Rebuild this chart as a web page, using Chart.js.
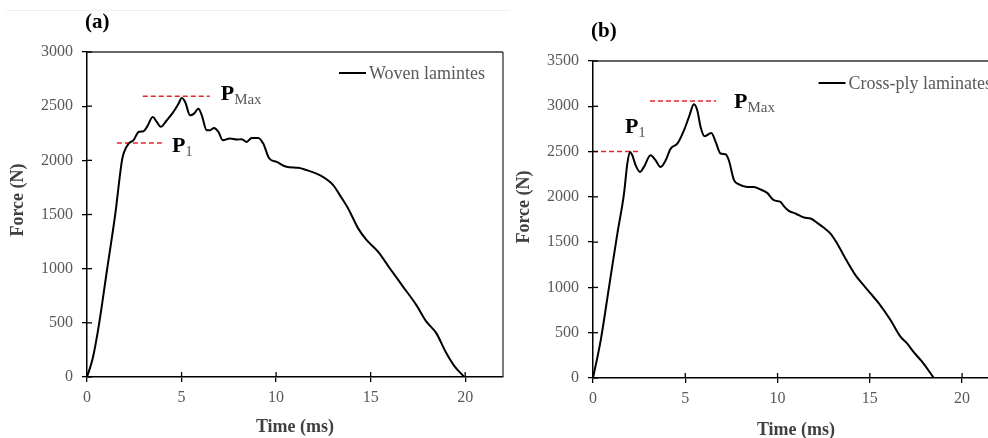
<!DOCTYPE html>
<html>
<head>
<meta charset="utf-8">
<script src="https://cdn.jsdelivr.net/npm/chart.js@4.4.1/dist/chart.umd.min.js"></script>
<style>
  html, body { margin: 0; padding: 0; background: #fff; overflow: hidden; }
  #wrap { position: relative; width: 988px; height: 438px; overflow: hidden; }
  #topline { position: absolute; left: 6px; top: 10px; width: 504px; height: 0; border-top: 1px solid #efefef; }
  #chartA { position: absolute; left: 0; top: 0; }
  #chartB { position: absolute; left: 494px; top: 0; }
</style>
</head>
<body>
<div id="wrap">
  <div id="topline"></div>
  <canvas id="chartA" width="510" height="438"></canvas>
  <canvas id="chartB" width="510" height="438"></canvas>
</div>
<script>
// (a) woven laminates - force vs time
const timeA = [0, 0.3, 0.62, 1.06, 1.5, 1.85, 1.97, 2.2, 2.46, 2.73, 2.99, 3.17, 3.48, 3.69, 3.9, 4.22, 4.57, 4.84, 5.01, 5.19, 5.45, 5.66, 5.89, 6.07, 6.33, 6.51, 6.72, 6.95, 7.18, 7.56, 7.92, 8.18, 8.44, 8.71, 9.06, 9.32, 9.64, 10.03, 10.55, 11.17, 11.61, 12.31, 13.02, 13.37, 13.81, 14.34, 14.78, 15.39, 16.01, 16.71, 17.41, 17.94, 18.47, 19.0, 19.44, 19.96];
const forceA = [0, 170, 470, 990, 1510, 2000, 2080, 2155, 2186, 2262, 2269, 2309, 2400, 2355, 2309, 2370, 2447, 2523, 2576, 2539, 2416, 2431, 2477, 2416, 2278, 2278, 2299, 2262, 2186, 2201, 2192, 2195, 2170, 2207, 2207, 2155, 2017, 1986, 1940, 1931, 1910, 1863, 1771, 1679, 1556, 1372, 1265, 1157, 1004, 835, 666, 513, 405, 221, 98, 0];

// (b) cross-ply laminates
const timeB = [0, 0.42, 0.87, 1.32, 1.68, 1.86, 2.0, 2.13, 2.31, 2.55, 2.76, 3.12, 3.39, 3.66, 3.94, 4.21, 4.57, 4.93, 5.2, 5.47, 5.65, 5.83, 6.05, 6.41, 6.65, 6.91, 7.18, 7.36, 7.64, 7.91, 8.36, 8.72, 9.08, 9.44, 9.8, 10.16, 10.34, 10.61, 10.97, 11.43, 11.79, 12.15, 12.51, 12.87, 13.23, 13.68, 14.22, 14.58, 15.04, 15.49, 16.12, 16.66, 17.02, 17.39, 17.83, 18.47];
const forceB = [0, 419, 1007, 1595, 2036, 2367, 2496, 2459, 2349, 2275, 2331, 2459, 2404, 2331, 2404, 2533, 2588, 2735, 2882, 3022, 2956, 2772, 2669, 2705, 2606, 2478, 2470, 2404, 2184, 2139, 2110, 2110, 2081, 2044, 1963, 1945, 1897, 1845, 1816, 1772, 1761, 1713, 1658, 1595, 1485, 1320, 1136, 1044, 934, 823, 640, 456, 382, 283, 180, 0];

// tick labels
const xTicks = [0, 5, 10, 15, 20];
const yTicksA = [0, 500, 1000, 1500, 2000, 2500, 3000];
const yTicksB = [0, 500, 1000, 1500, 2000, 2500, 3000, 3500];

// dashed P1 / PMax reference lines: [tStart, tEnd, force]
const p1LineA = [1.58, 3.96, 2160];
const pMaxLineA = [2.95, 6.49, 2592];
const p1LineB = [0, 2.6, 2500];
const pMaxLineB = [3.09, 6.67, 3058];

// label anchors [t, force]
const p1LabelA = [4.49, 2077];
const pMaxLabelA = [7.07, 2557];
const p1LabelB = [1.73, 2704];
const pMaxLabelB = [7.64, 2980];

const SERIF = '"Liberation Serif", "Times New Roman", serif';
const GREY = '#595959';

function pts(xs, ys) { return xs.map((v, i) => ({ x: v, y: ys[i] })); }
function hline(l) { return [{ x: l[0], y: l[2] }, { x: l[1], y: l[2] }]; }

const extrasPlugin = {
    id: 'extras',
    afterDraw(chart, args, o) {
        const { ctx, chartArea: a, scales: { x, y } } = chart;
        const line = (x1, y1, x2, y2) => { ctx.beginPath(); ctx.moveTo(x1, y1); ctx.lineTo(x2, y2); ctx.stroke(); };
        ctx.save();

        // plot frame (top + right)
        ctx.strokeStyle = '#333'; ctx.lineWidth = 1.3;
        line(a.left, a.top, a.right, a.top);
        line(a.right, a.top, a.right, a.bottom);

        // inner half of the cross ticks
        ctx.strokeStyle = '#000'; ctx.lineWidth = 1.3;
        x.ticks.forEach(t => { const px = x.getPixelForValue(t.value); line(px, a.bottom, px, a.bottom - 5); });
        y.ticks.forEach(t => { const py = y.getPixelForValue(t.value); line(a.left, py, a.left + 5, py); });

        // panel letter
        ctx.fillStyle = '#000';
        ctx.font = 'bold 21px ' + SERIF;
        ctx.textBaseline = 'middle'; ctx.textAlign = 'left';
        ctx.fillText(o.panel, a.left - 2, a.top - 29);

        // y title
        ctx.save();
        ctx.translate(o.yTitleX, o.yTitleY);
        ctx.rotate(-Math.PI / 2);
        ctx.textAlign = 'center';
        ctx.fillStyle = '#404040';
        ctx.font = 'bold 18px ' + SERIF;
        ctx.fillText('Force (N)', 0, 0);
        ctx.restore();

        // legend inside plot
        ctx.font = '18px ' + SERIF;
        const label = chart.data.datasets[0].label;
        const tw = ctx.measureText(label).width;
        const tx = a.right - o.legendRight - tw;
        const ly = a.top + o.legendTop;
        ctx.strokeStyle = '#000'; ctx.lineWidth = 2;
        line(tx - 30, ly, tx - 3, ly);
        ctx.fillStyle = GREY;
        ctx.fillText(label, tx, ly + 1);

        // P labels
        ctx.textBaseline = 'alphabetic';
        o.marks.forEach(m => {
            const px = x.getPixelForValue(m.at[0]);
            const py = y.getPixelForValue(m.at[1]);
            ctx.font = 'bold 22px ' + SERIF;
            ctx.fillStyle = '#000';
            ctx.fillText('P', px, py);
            const w = ctx.measureText('P').width;
            ctx.font = '15px ' + SERIF;
            ctx.fillStyle = GREY;
            ctx.fillText(m.sub, px + w, py + 4);
        });
        ctx.restore();
    }
};

function makeChart(id, cfg) {
    const ticksFrom = arr => scale => { scale.ticks = arr.map(v => ({ value: v })); };
    const plain = v => String(v);
    const dashed = l => ({ data: hline(l), borderColor: '#e3262c', borderWidth: 1.5, borderDash: [5, 3], pointRadius: 0 });
    return new Chart(document.getElementById(id), {
        type: 'line',
        data: {
            datasets: [
                {
                    label: cfg.label,
                    data: cfg.data,
                    borderColor: '#000',
                    borderWidth: 2,
                    pointRadius: 0,
                    cubicInterpolationMode: 'monotone',
                    fill: false
                },
                dashed(cfg.p1Line),
                dashed(cfg.pMaxLine)
            ]
        },
        options: {
            responsive: false,
            animation: false,
            layout: { padding: { top: cfg.padTop, right: cfg.padRight, left: 0, bottom: 0 } },
            plugins: {
                legend: { display: false },
                tooltip: { enabled: false },
                extras: cfg.extras
            },
            scales: {
                x: {
                    type: 'linear',
                    min: 0, max: 22,
                    afterBuildTicks: ticksFrom(xTicks),
                    afterFit: s => { s.height = cfg.xHeight; },
                    grid: { drawOnChartArea: false, color: '#000', tickLength: 5, lineWidth: 1.3 },
                    border: { color: '#000', width: 1.5 },
                    ticks: { color: GREY, font: { family: SERIF, size: 16 }, padding: 6, callback: plain },
                    title: { display: true, text: 'Time (ms)', color: '#404040', font: { family: SERIF, size: 18, weight: 'bold' }, padding: { top: 0, bottom: cfg.xTitlePad } }
                },
                y: {
                    min: 0, max: cfg.yMax,
                    afterBuildTicks: ticksFrom(cfg.yTicks),
                    afterFit: s => { s.width = cfg.yWidth; },
                    grid: { drawOnChartArea: false, color: '#000', tickLength: 5, lineWidth: 1.3 },
                    border: { color: '#000', width: 1.5 },
                    ticks: { color: GREY, font: { family: SERIF, size: 16 }, padding: 9, callback: plain }
                }
            }
        },
        plugins: [extrasPlugin]
    });
}

makeChart('chartA', {
    label: 'Woven lamintes',
    data: pts(timeA, forceA),
    p1Line: p1LineA, pMaxLine: pMaxLineA,
    yMax: 3000, yTicks: yTicksA,
    padTop: 52, padRight: 7, yWidth: 87, xHeight: 61, xTitlePad: 0,
    extras: {
        panel: '(a)', yTitleX: 18, yTitleY: 200,
        legendRight: 18, legendTop: 21,
        marks: [{ at: pMaxLabelA, sub: 'Max' }, { at: p1LabelA, sub: '1' }]
    }
});

makeChart('chartB', {
    label: 'Cross-ply laminates',
    data: pts(timeB, forceB),
    p1Line: p1LineB, pMaxLine: pMaxLineB,
    yMax: 3500, yTicks: yTicksB,
    padTop: 61, padRight: 5, yWidth: 99, xHeight: 60, xTitlePad: -3,
    extras: {
        panel: '(b)', yTitleX: 30, yTitleY: 207,
        legendRight: 7, legendTop: 22,
        marks: [{ at: pMaxLabelB, sub: 'Max' }, { at: p1LabelB, sub: '1' }]
    }
});
</script>
</body>
</html>
